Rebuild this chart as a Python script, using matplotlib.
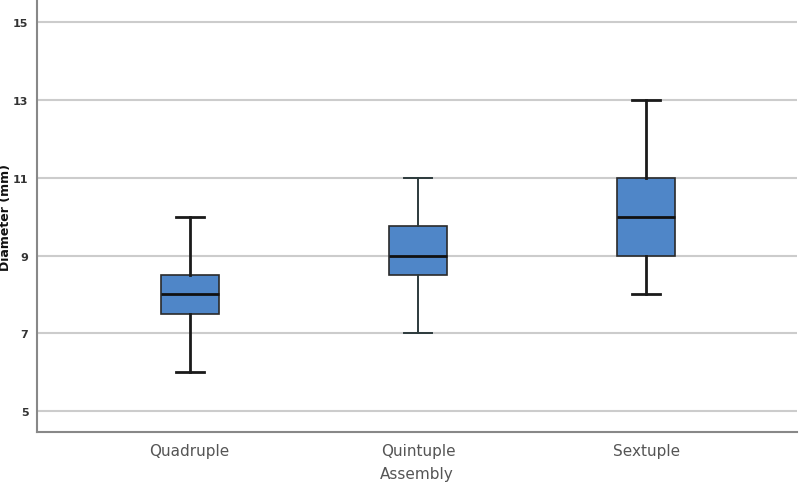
import matplotlib
matplotlib.use("Agg")
import matplotlib.pyplot as plt

categories = ["Quadruple", "Quintuple", "Sextuple"]
whisker_low = [6, 7, 8]
q1 = [7.5, 8.5, 9]
median = [8, 9, 10]
q3 = [8.5, 9.75, 11]
whisker_high = [10, 11, 13]
yticks = [5, 7, 9, 11, 13, 15]

fig = plt.figure(figsize=(8, 4.85), dpi=100)
ax = fig.add_axes([0.046, 0.108, 0.95, 0.888])

stats = []
for i, c in enumerate(categories):
    stats.append(dict(label=c, whislo=whisker_low[i], q1=q1[i], med=median[i],
                      q3=q3[i], whishi=whisker_high[i], fliers=[]))

res = ax.bxp(stats, positions=range(len(categories)), widths=0.254, patch_artist=True,
             showfliers=False, capwidths=0.123,
             boxprops=dict(facecolor="#4f86c8", edgecolor="#2a2a2a", linewidth=1.2),
             medianprops=dict(color="#111111", linewidth=2.0),
             whiskerprops=dict(color="#1a1a1a", linewidth=2.0),
             capprops=dict(color="#1a1a1a", linewidth=2.0), zorder=3)

# middle box drawn with thinner whiskers in the reference
for ln in res["whiskers"][2:4] + res["caps"][2:4]:
    ln.set_linewidth(1.4)
    ln.set_color("#2c3a3c")

ax.set_xlim(-0.67, 2.66)
ax.set_ylim(4.47, 15.55)
ax.set_yticks(yticks)
ax.set_yticklabels([str(v) for v in yticks], fontsize=8, fontweight="bold", color="#333333")
ax.set_xticks(range(len(categories)))
ax.set_xticklabels(categories, fontsize=11, color="#555555")
ax.tick_params(axis="both", length=0)
ax.tick_params(axis="x", pad=8)
ax.tick_params(axis="y", pad=6)
ax.grid(axis="y", color="#cccccc", linewidth=1.5, zorder=0)
ax.set_axisbelow(True)
for s in ["top", "right"]:
    ax.spines[s].set_visible(False)
for s in ["left", "bottom"]:
    ax.spines[s].set_color("#888888")
    ax.spines[s].set_linewidth(1.5)

ax.set_ylabel("Diameter (mm)", fontsize=9, fontweight="bold", color="#111111")
ax.yaxis.set_label_coords(-0.033, 0.5)
ax.set_xlabel("Assembly", fontsize=11, color="#555555", labelpad=6)

fig.savefig("out.png", dpi=100)
